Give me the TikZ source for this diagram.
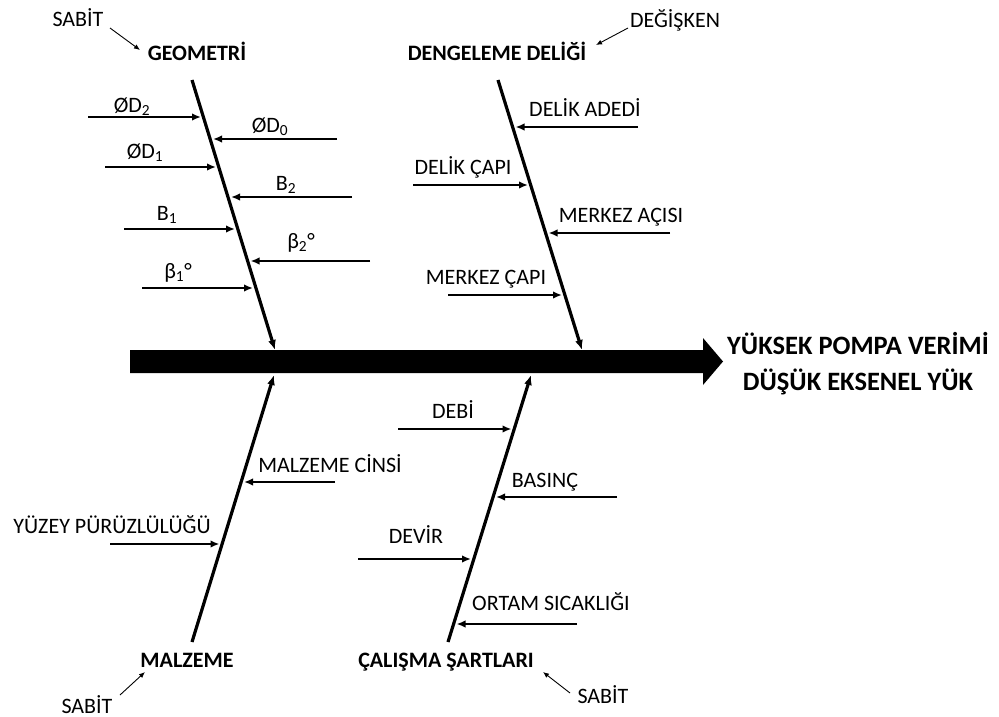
\documentclass[tikz,border=0pt]{standalone}
\usepackage{fontspec}
\setmainfont{Carlito}
\usetikzlibrary{arrows.meta}
\tikzset{
  lbl/.style={inner sep=0pt, anchor=base, font=\fontsize{22}{26}\selectfont},
  ttl/.style={inner sep=0pt, anchor=base, font=\fontsize{22}{26}\selectfont\bfseries},
  outl/.style={inner sep=0pt, anchor=base, font=\fontsize{26.5}{36}\selectfont\bfseries},
  bone/.style={line width=3.2pt, -{Latex[length=10pt,width=8pt]}},
  sub/.style={line width=2.8pt, -{Latex[length=9pt,width=7.5pt]}},
  thin/.style={line width=0.9pt, -{Latex[length=6pt,width=5pt]}},
}
\begin{document}
\begin{tikzpicture}[x=1pt,y=-1pt]
\useasboundingbox (0,0) rectangle (999,717);
% spine
\fill (130,350) -- (703,350) -- (703,338) -- (723,361.5) -- (703,385) -- (703,373) -- (130,373) -- cycle;
\node[outl] (out1) at (858,354) {YÜKSEK POMPA VERİMİ};
\node[outl] (out2) at (858,390) {DÜŞÜK EKSENEL YÜK};

% ---- GEOMETRI ----
\coordinate (gtop) at (192,80);
\coordinate (gtip) at (275,350);
\draw[bone] (gtop) -- (gtip);
\node[ttl] (geo) at (197,60) {GEOMETRİ};
\node[lbl] (gsab) at (78,27) {SABİT};
\coordinate (gsa1) at (110,28); \coordinate (gsa2) at (140,50);
\draw[thin] (gsa1) -- (gsa2);

\coordinate (d2s) at (88,117);  \coordinate (d2e) at (201,117);
\coordinate (d0s) at (337,139); \coordinate (d0e) at (213,139);
\coordinate (d1s) at (105,167); \coordinate (d1e) at (216,167);
\coordinate (b2s) at (352,197); \coordinate (b2e) at (231,197);
\coordinate (b1s) at (124,229); \coordinate (b1e) at (235,229);
\coordinate (t2s) at (370,261); \coordinate (t2e) at (250.5,261);
\coordinate (t1s) at (142,288); \coordinate (t1e) at (253,288);
\draw[sub] (d2s) -- (d2e);
\draw[sub] (d0s) -- (d0e);
\draw[sub] (d1s) -- (d1e);
\draw[sub] (b2s) -- (b2e);
\draw[sub] (b1s) -- (b1e);
\draw[sub] (t2s) -- (t2e);
\draw[sub] (t1s) -- (t1e);
\node[lbl] (ld2) at (132,112) {ØD\textsubscript{2}};
\node[lbl] (ld0) at (270,132) {ØD\textsubscript{0}};
\node[lbl] (ld1) at (145,158) {ØD\textsubscript{1}};
\node[lbl] (lb2) at (286,190) {B\textsubscript{2}};
\node[lbl] (lb1) at (167,220) {B\textsubscript{1}};
\node[lbl] (lt2) at (301,248) {β\textsubscript{2}°};
\node[lbl] (lt1) at (178,278) {β\textsubscript{1}°};

% ---- DENGELEME DELIGI ----
\coordinate (dtop) at (498,80);
\coordinate (dtip) at (582,350);
\draw[bone] (dtop) -- (dtip);
\node[ttl] (den) at (497,60) {DENGELEME DELİĞİ};
\node[lbl] (ddeg) at (675,28) {DEĞİŞKEN};
\coordinate (dsa1) at (628,28); \coordinate (dsa2) at (596,45);
\draw[thin] (dsa1) -- (dsa2);

\coordinate (das) at (638,127); \coordinate (dae) at (515.5,127);
\coordinate (dcs) at (413,185); \coordinate (dce) at (528,185);
\coordinate (mas) at (670,233); \coordinate (mae) at (548.5,233);
\coordinate (mcs) at (448,295); \coordinate (mce) at (562,295);
\draw[sub] (das) -- (dae);
\draw[sub] (dcs) -- (dce);
\draw[sub] (mas) -- (mae);
\draw[sub] (mcs) -- (mce);
\node[lbl] (lda) at (585,117) {DELİK ADEDİ};
\node[lbl] (ldc) at (463,174) {DELİK ÇAPI};
\node[lbl] (lma) at (621,222) {MERKEZ AÇISI};
\node[lbl] (lmc) at (486,284) {MERKEZ ÇAPI};

% ---- MALZEME ----
\coordinate (mbot) at (192,642);
\coordinate (mtip) at (274,375);
\draw[bone] (mbot) -- (mtip);
\node[ttl] (mal) at (187,667) {MALZEME};
\node[lbl] (msab) at (87,713) {SABİT};
\coordinate (msa1) at (120,695); \coordinate (msa2) at (145,672);
\draw[thin] (msa1) -- (msa2);

\coordinate (mcis) at (335,482); \coordinate (mcie) at (244,482);
\coordinate (yps) at (110,544);  \coordinate (ype) at (219.5,544);
\draw[sub] (mcis) -- (mcie);
\draw[sub] (yps) -- (ype);
\node[lbl] (lmci) at (330,472) {MALZEME CİNSİ};
\node[lbl] (lyp) at (112,533) {YÜZEY PÜRÜZLÜLÜĞÜ};

% ---- CALISMA SARTLARI ----
\coordinate (cbot) at (448,642);
\coordinate (ctip) at (531,375);
\draw[bone] (cbot) -- (ctip);
\node[ttl] (cal) at (446,667) {ÇALIŞMA ŞARTLARI};
\node[lbl] (csab) at (603,703) {SABİT};
\coordinate (csa1) at (570,693); \coordinate (csa2) at (543,672);
\draw[thin] (csa1) -- (csa2);

\coordinate (dbs) at (398,429); \coordinate (dbe) at (511.5,429);
\coordinate (bas) at (617,497); \coordinate (bae) at (496,497);
\coordinate (dvs) at (358,559); \coordinate (dve) at (471,559);
\coordinate (ors) at (577,624); \coordinate (ore) at (456.5,624);
\draw[sub] (dbs) -- (dbe);
\draw[sub] (bas) -- (bae);
\draw[sub] (dvs) -- (dve);
\draw[sub] (ors) -- (ore);
\node[lbl] (ldb) at (453,418) {DEBİ};
\node[lbl] (lba) at (545,487) {BASINÇ};
\node[lbl] (ldv) at (416,543) {DEVİR};
\node[lbl] (lor) at (551,610) {ORTAM SICAKLIĞI};
\end{tikzpicture}
\end{document}
